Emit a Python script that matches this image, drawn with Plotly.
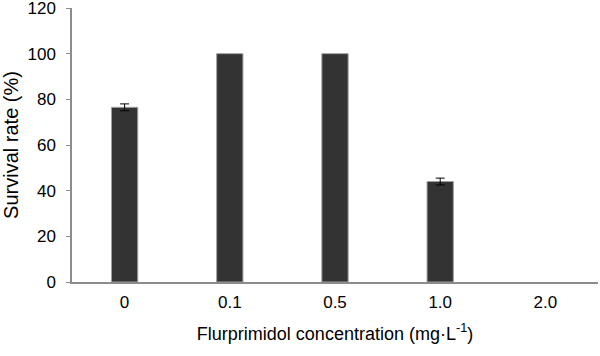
import plotly.graph_objects as go

categories = ["0", "0.1", "0.5", "1.0", "2.0"]
survival = [76.5, 100, 100, 44, 0]
errors = [1.5, 0, 0, 1.5, 0]
y_ticks = [0, 20, 40, 60, 80, 100, 120]

font_family = "Liberation Sans, Arial, sans-serif"

fig = go.Figure()
fig.add_trace(go.Bar(
    x=categories,
    y=survival,
    marker=dict(color="#333333",
                line=dict(color="#a0a0a0", width=[1 if v > 0 else 0 for v in survival])),
    width=0.25,
))

# error bars only where there is a non-zero error
err_x = [c for c, e in zip(categories, errors) if e > 0]
err_y = [v for v, e in zip(survival, errors) if e > 0]
err_v = [e for e in errors if e > 0]
fig.add_trace(go.Scatter(
    x=err_x, y=err_y, mode="markers",
    marker=dict(size=1, color="rgba(0,0,0,0)"),
    error_y=dict(type="data", array=err_v, visible=True, color="#000000",
                 thickness=1, width=4.5),
    hoverinfo="skip",
))

fig.update_layout(
    width=600, height=356,
    margin=dict(l=72, r=2, t=8, b=74),
    paper_bgcolor="white", plot_bgcolor="white",
    showlegend=False,
    font=dict(family=font_family, size=17, color="#000000"),
    xaxis=dict(
        type="category", automargin=False,
        showline=True, linecolor="#8c8c8c", linewidth=1.5,
        ticks="", showgrid=False, zeroline=False,
        tickfont=dict(size=17), ticklabelstandoff=4,
        title=dict(text="Flurprimidol concentration (mg·L<sup>-1</sup>)",
                   font=dict(size=18), standoff=16),
    ),
    yaxis=dict(
        range=[0, 120], tickvals=y_ticks, automargin=False,
        showline=True, linecolor="#8c8c8c", linewidth=1.5,
        ticks="outside", ticklen=4, tickcolor="#8c8c8c",
        ticklabeloverflow="allow", ticklabelstandoff=7,
        showgrid=False, zeroline=False,
        tickfont=dict(size=17),
        title=dict(text="Survival rate (%)", font=dict(size=20), standoff=8),
    ),
)

fig.write_html("out.html")
